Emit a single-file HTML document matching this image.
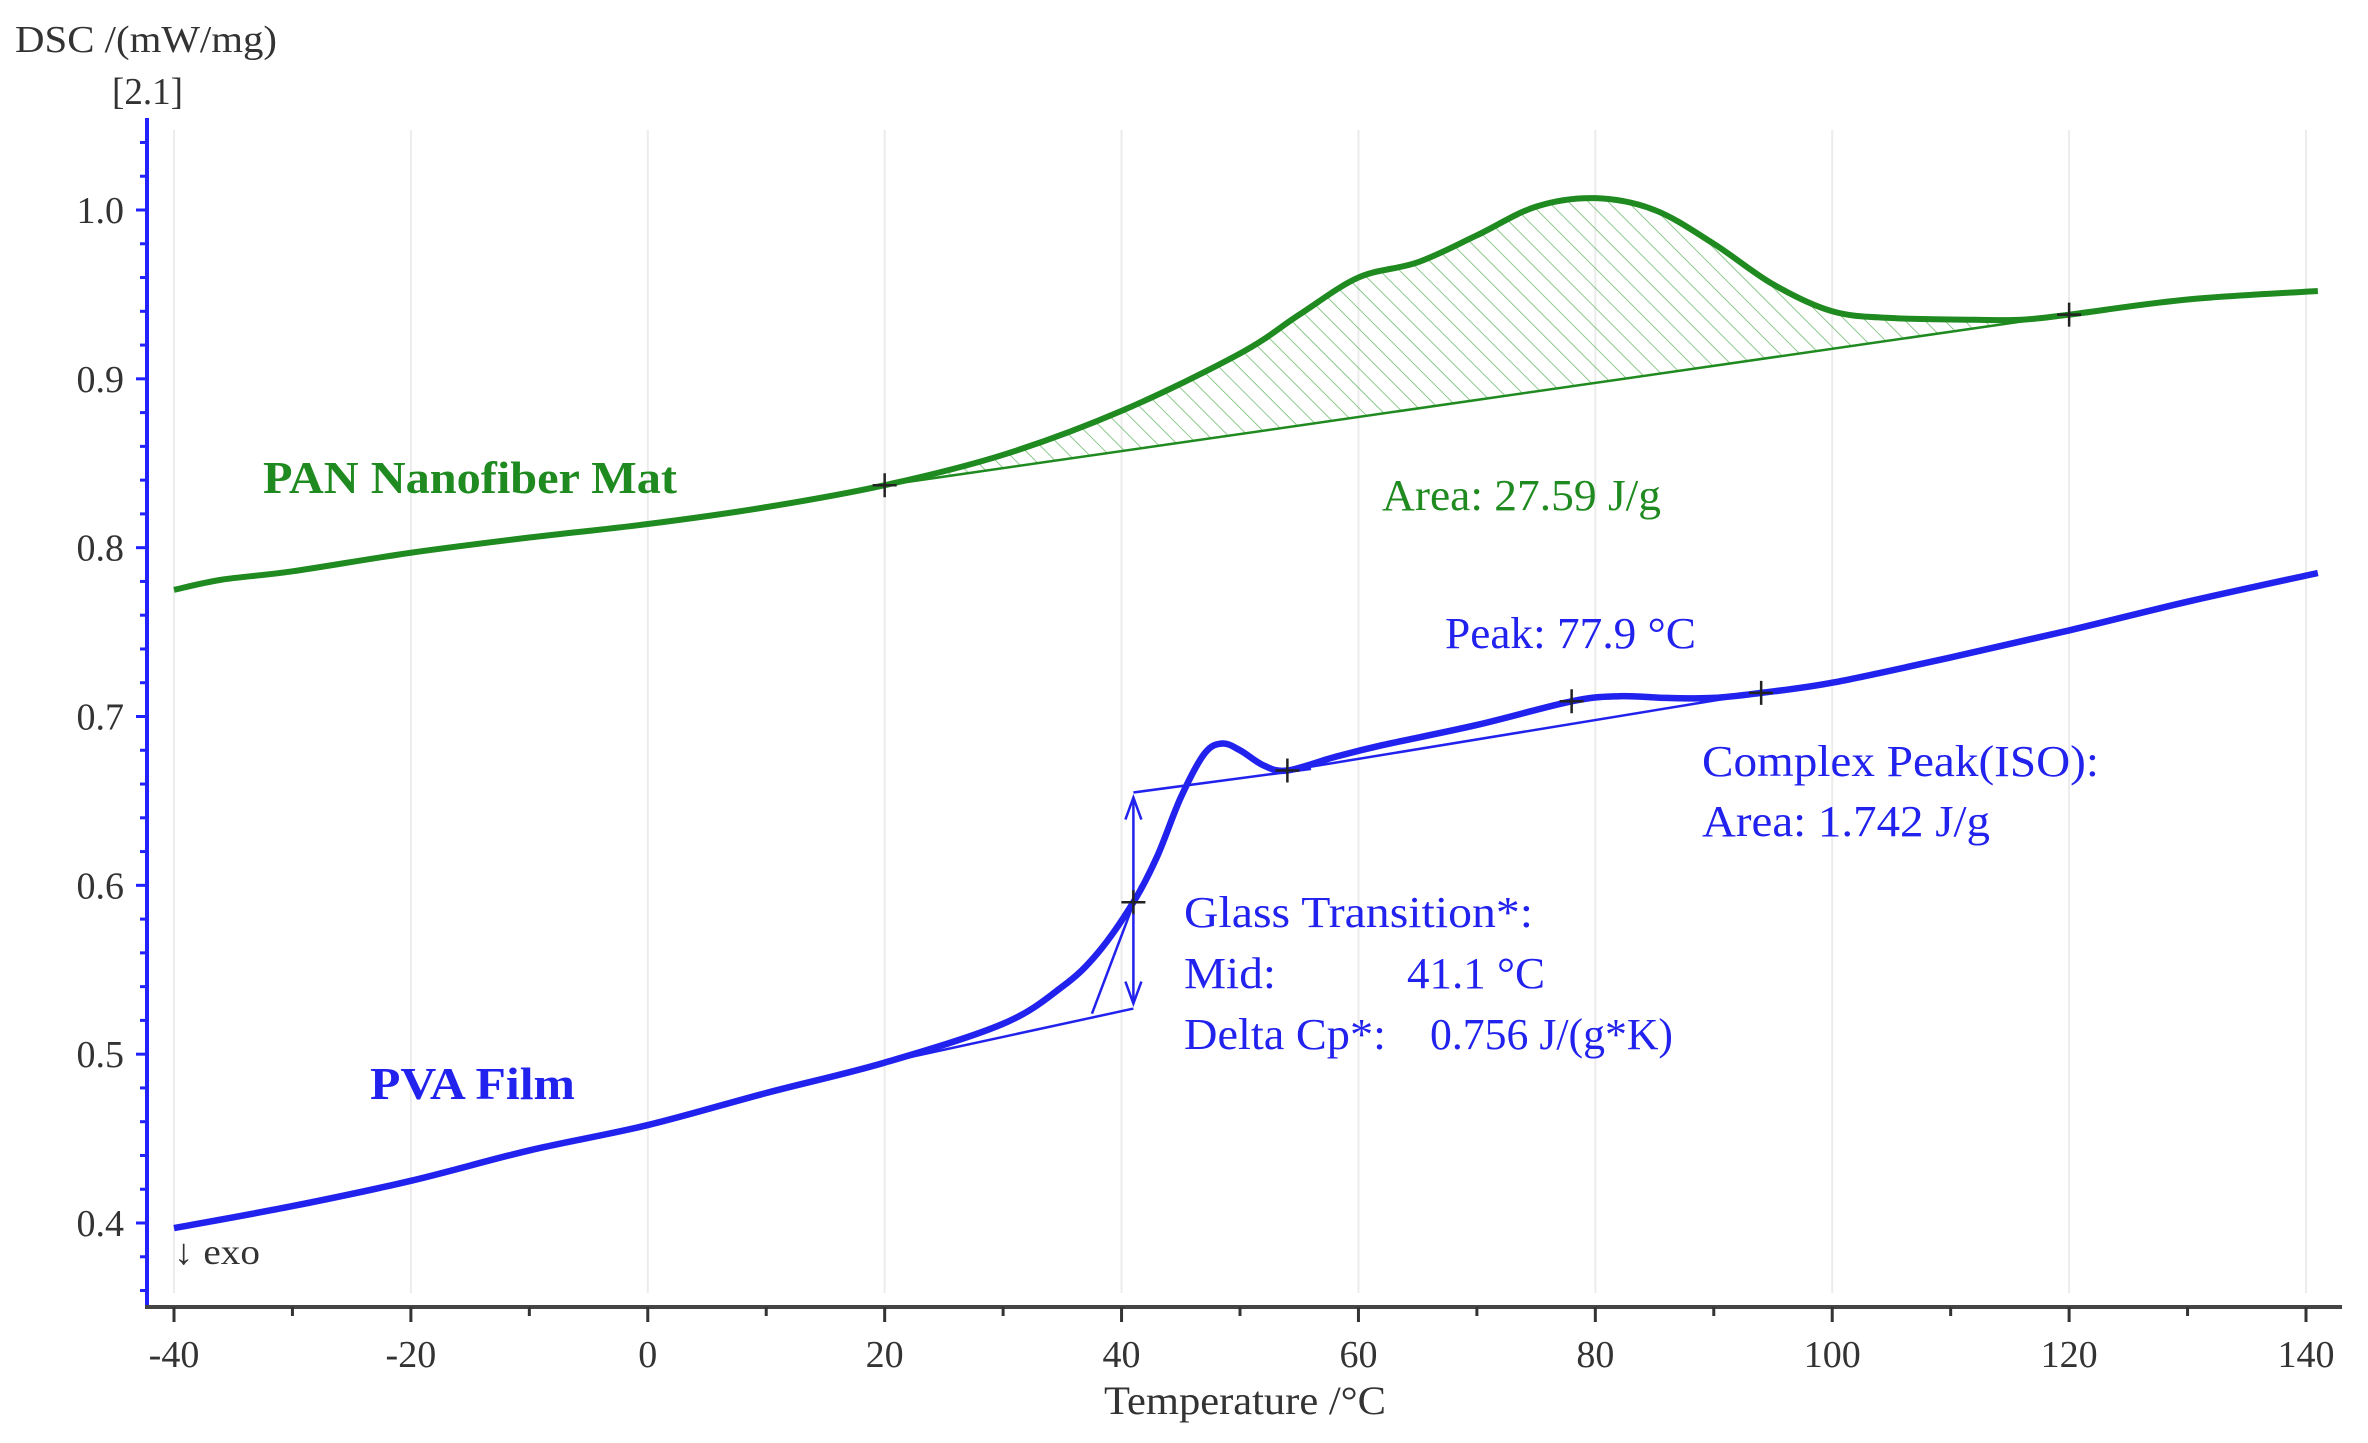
<!DOCTYPE html>
<html><head><meta charset="utf-8"><style>
html,body{margin:0;padding:0;background:#fff}
svg{display:block}
text{font-family:"Liberation Serif",serif}
</style></head><body>
<svg id="s" width="2368" height="1443" viewBox="0 0 2368 1443" xmlns="http://www.w3.org/2000/svg">
<defs>
<pattern id="h" width="14" height="14" patternUnits="userSpaceOnUse" patternTransform="rotate(-45)">
<line x1="0" y1="0" x2="0" y2="14" stroke="#2a9a2a" stroke-width="1.5" opacity="0.7"/>
</pattern>
</defs>
<g id="grid"></g>
<g id="axes"></g>
<g id="curves"></g>
<g fill="#333">
<text x="15" y="52" textLength="262" lengthAdjust="spacingAndGlyphs" font-size="38">DSC /(mW/mg)</text>
<text x="112" y="104" textLength="71" lengthAdjust="spacingAndGlyphs" font-size="38">[2.1]</text>
<text x="1104" y="1414" textLength="282" lengthAdjust="spacingAndGlyphs" font-size="40">Temperature /°C</text>
<text x="174" y="1264" font-size="36" textLength="86" lengthAdjust="spacingAndGlyphs">↓ exo</text>
</g>
<g fill="#1f8a1f">
<text x="263" y="493" font-size="46" font-weight="bold" textLength="414" lengthAdjust="spacingAndGlyphs">PAN Nanofiber Mat</text>
<text x="1382" y="510" font-size="44" textLength="279" lengthAdjust="spacingAndGlyphs">Area: 27.59 J/g</text>
</g>
<g fill="#2222ee" font-size="44">
<text x="370" y="1099" font-size="46" font-weight="bold" textLength="205" lengthAdjust="spacingAndGlyphs">PVA Film</text>
<text x="1445" y="648" textLength="251" lengthAdjust="spacingAndGlyphs">Peak: 77.9 °C</text>
<text x="1702" y="776" textLength="397" lengthAdjust="spacingAndGlyphs">Complex Peak(ISO):</text>
<text x="1702" y="836" textLength="288" lengthAdjust="spacingAndGlyphs">Area:  1.742 J/g</text>
<text x="1184" y="927" textLength="349" lengthAdjust="spacingAndGlyphs">Glass Transition*:</text>
<text x="1184" y="988" textLength="92" lengthAdjust="spacingAndGlyphs">Mid:</text>
<text x="1407" y="988" textLength="138" lengthAdjust="spacingAndGlyphs">41.1 °C</text>
<text x="1184" y="1049" textLength="202" lengthAdjust="spacingAndGlyphs">Delta Cp*:</text>
<text x="1430" y="1049" textLength="243" lengthAdjust="spacingAndGlyphs">0.756 J/(g*K)</text>
</g>
</svg>
<script>
const NS="http://www.w3.org/2000/svg";
function XX(t){return 174+(t+40)*(2306-174)/180;}
function Y(v){return 210+(1.0-v)*(1223-210)/0.6;}
function el(p,tag,a){const e=document.createElementNS(NS,tag);for(const k in a)e.setAttribute(k,a[k]);document.getElementById(p).appendChild(e);return e;}
for(let t=-40;t<=140;t+=20){el("grid","line",{x1:XX(t),x2:XX(t),y1:130,y2:1293,stroke:"#ececec","stroke-width":2});}
el("axes","line",{x1:147,x2:147,y1:118,y2:1308,stroke:"#2222ff","stroke-width":4});
el("axes","line",{x1:145,x2:2342,y1:1307,y2:1307,stroke:"#444","stroke-width":4});
for(let v=0.36;v<=1.05;v+=0.02){const y=Y(v);const major=Math.abs(Math.round(v*10)-v*10)<0.001;el("axes","line",{x1:major?136:140,x2:147,y1:y,y2:y,stroke:"#2222ff","stroke-width":3});}
for(let t=-40;t<=140;t+=10){const x=XX(t);el("axes","line",{x1:x,x2:x,y1:1307,y2:t%20==0?1322:1316,stroke:"#333","stroke-width":3});
 if(t%20==0){const tx=el("axes","text",{x:x,y:1367,"text-anchor":"middle","font-size":38,fill:"#333"});tx.textContent=t;}}
for(let v=0.4;v<=1.001;v+=0.1){const tx=el("axes","text",{x:124,y:Y(v)+13,"text-anchor":"end","font-size":38,fill:"#333"});tx.textContent=v.toFixed(1);}
function path(pts){
 const P=pts.map(p=>[XX(p[0]),Y(p[1])]);let d="M"+P[0][0]+","+P[0][1];
 for(let i=0;i<P.length-1;i++){const p0=P[Math.max(i-1,0)],p1=P[i],p2=P[i+1],p3=P[Math.min(i+2,P.length-1)];
 const c1=[p1[0]+(p2[0]-p0[0])/6,p1[1]+(p2[1]-p0[1])/6],c2=[p2[0]-(p3[0]-p1[0])/6,p2[1]-(p3[1]-p1[1])/6];
 d+=" C"+c1+" "+c2+" "+p2;}return d;}
const pan=[[-40,0.775],[-36,0.781],[-30,0.786],[-20,0.797],[-10,0.806],[0,0.814],[10,0.824],[20,0.837],[30,0.855],[40,0.881],[50,0.915],[55,0.938],[60,0.960],[65,0.969],[70,0.985],[75,1.002],[80,1.007],[85,1.000],[90,0.980],[95,0.956],[100,0.940],[105,0.936],[112,0.935],[116,0.935],[120,0.938],[130,0.947],[141,0.952]];
const pva=[[-40,0.397],[-30,0.410],[-20,0.425],[-10,0.443],[0,0.458],[10,0.477],[20,0.495],[30,0.518],[35,0.540],[38,0.560],[41,0.590],[43,0.617],[45,0.652],[47,0.678],[48.5,0.684],[50,0.680],[52,0.671],[54,0.668],[58,0.676],[62,0.683],[70,0.695],[78,0.709],[82,0.712],[86,0.711],[90,0.711],[94,0.714],[100,0.720],[110,0.735],[120,0.751],[130,0.768],[141,0.785]];
const seg=pan.filter(p=>p[0]>=20&&p[0]<=120);
el("curves","path",{d:path(seg)+" L"+XX(20)+","+Y(0.837)+"Z",fill:"url(#h)",stroke:"none"});
el("curves","line",{x1:XX(20),y1:Y(0.837),x2:XX(120),y2:Y(0.938),stroke:"#1f8a1f","stroke-width":2.5});
el("curves","path",{d:path(pan),fill:"none",stroke:"#1f8a1f","stroke-width":6});
const B="#2222ee";
el("curves","line",{x1:XX(20),y1:Y(0.495),x2:XX(41),y2:Y(0.527),stroke:B,"stroke-width":2.5});
el("curves","line",{x1:XX(41),y1:Y(0.655),x2:XX(56),y2:Y(0.669),stroke:B,"stroke-width":2.5});
el("curves","line",{x1:XX(37.5),y1:Y(0.524),x2:XX(41.6),y2:Y(0.600),stroke:B,"stroke-width":2.5});
el("curves","line",{x1:XX(41),y1:Y(0.530),x2:XX(41),y2:Y(0.652),stroke:B,"stroke-width":2.5});
const xa=XX(41),ya1=Y(0.652),ya2=Y(0.530);
el("curves","path",{d:`M${xa-8},${ya1+22} L${xa},${ya1} L${xa+8},${ya1+22} M${xa-8},${ya2-22} L${xa},${ya2} L${xa+8},${ya2-22}`,fill:"none",stroke:B,"stroke-width":2.5});
el("curves","line",{x1:XX(54),y1:Y(0.668),x2:XX(94),y2:Y(0.714),stroke:B,"stroke-width":2.5});
el("curves","path",{d:path(pva),fill:"none",stroke:B,"stroke-width":6.5});
[[20,0.837],[120,0.938],[41,0.590],[54,0.668],[78,0.709],[94,0.714]].forEach(p=>{const x=XX(p[0]),y=Y(p[1]);
 el("curves","path",{d:`M${x-12},${y} L${x+12},${y} M${x},${y-12} L${x},${y+12}`,stroke:"#222","stroke-width":2.5});});
</script>
</body></html>
